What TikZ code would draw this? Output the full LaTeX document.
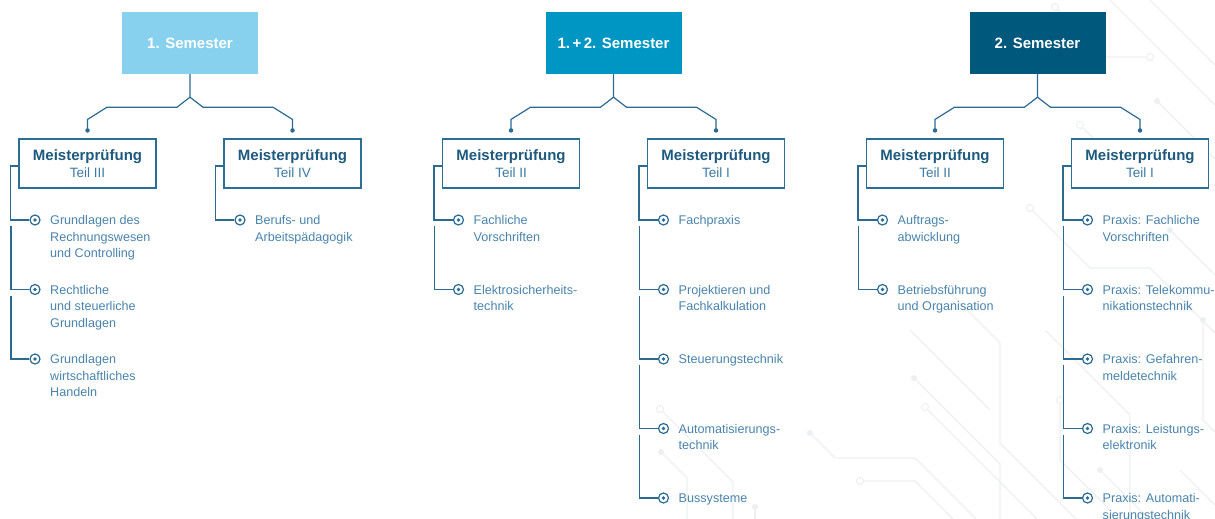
\documentclass[tikz,border=0pt]{standalone}
\usepackage{fontspec}
\setmainfont{Liberation Sans}
\usetikzlibrary{calc}
\definecolor{semA}{HTML}{88D1EE}
\definecolor{semB}{HTML}{0096C3}
\definecolor{semC}{HTML}{00587D}
\definecolor{linec}{HTML}{2B6B92}
\definecolor{boxc}{HTML}{2B6E96}
\definecolor{titlec}{HTML}{1D5A7E}
\definecolor{teilc}{HTML}{3A7AA2}
\definecolor{itemc}{HTML}{4A84AB}
\definecolor{tracec}{HTML}{EDF0F3}
\newcommand\itxt[1]{\begin{tabular}[t]{@{}l@{}}#1\end{tabular}}
\newcommand\mptitle[1]{{\fontsize{15}{17}\bfseries\selectfont\color{titlec}Meisterprüfung}\\{\color{teilc}#1}}
\newcommand\mpentry[4]{%
  \node[bul] (#1b) at (#2+16,#3) {};
  \node[itm] (#1t) at (#2+31,#3+4.5) {\itxt{#4}};
}
\tikzset{
  sem/.style={rectangle, minimum width=136pt, minimum height=62pt, inner sep=0pt, text=white,
    font=\bfseries\fontsize{15}{15}\selectfont},
  part/.style={rectangle, draw=boxc, line width=1.1pt, minimum width=137pt, minimum height=49pt,
    fill=white, align=center, inner sep=0pt, font=\fontsize{13.5}{17}\selectfont},
  bul/.style={circle, draw=linec, line width=1.2pt, minimum size=10pt, inner sep=0pt, fill=white,
    path picture={\fill[linec] (path picture bounding box.center) circle (1.9pt);}},
  itm/.style={anchor=base west, inner sep=0pt, text=itemc, font=\fontsize{12.6}{16.5}\selectfont},
  conn/.style={draw=linec, line width=1.2pt},
  dotn/.style={circle, fill=linec, minimum size=4.5pt, inner sep=0pt},
  trace/.style={draw=tracec, line width=1.1pt},
  tdot/.style={circle, fill=tracec, minimum size=6pt, inner sep=0pt},
  tring/.style={circle, draw=tracec, line width=1.1pt, fill=white, minimum size=7pt, inner sep=0pt},
}
\begin{document}
\begin{tikzpicture}[x=1pt, y=-1pt]
\useasboundingbox[fill=white] (0,0) rectangle (1215,519);
% faint background traces
\begin{scope}
\draw[trace] (914,378) node[tdot] (g1) {} -- (1000,464) -- (1000,519);
\draw[trace] (925,407) node[tring] (g2) {} -- (1037,519);
\draw[trace] (810,433) node[tdot] (g3) {} -- (835,458) -- (915,458) -- (976,519);
\draw[trace] (860,481) node[tring] (g4) {} -- (915,481) -- (953,519);
\draw[trace] (660,409) node[tring] (g5) {} -- (733,482) -- (733,519);
\draw[trace] (661,452) node[tdot] (g6) {} -- (687,478) -- (687,519);
\draw[trace] (755,507) node[tdot] (g7) {} -- (755,519);
\draw[trace] (947,290) -- (1000,343) -- (1000,443) -- (1076,519);
\draw[trace] (1045,330) -- (1130,415) -- (1130,519);
\draw[trace] (1055,7) node[tring] (g8) {} -- (1105,57) -- (1150,57) node[tring] (g9) {};
\draw[trace] (1110,0) -- (1215,105);
\draw[trace] (1150,0) -- (1215,65);
\draw[trace] (1157,101) node[tdot] (g10) {} -- (1215,159);
\draw[trace] (1080,125) node[tring] (g11) {} -- (1140,185) -- (1215,185);
\draw[trace] (1030,208) node[tring] (g12) {} -- (1090,268) -- (1150,268) -- (1215,333);
\draw[trace] (1170,230) node[tdot] (g13) {} -- (1215,275);
\draw[trace] (1203,320) node[tdot] (g14) {} -- (1203,420) -- (1215,432);
\draw[trace] (1060,400) node[tring] (g15) {} -- (1060,460) -- (1119,519);
\draw[trace] (1100,470) node[tdot] (g16) {} -- (1149,519);
\draw[trace] (910,330) -- (990,410);
\draw[trace] (1180,470) -- (1215,505);
\end{scope}
% semester boxes
\node[sem, fill=semA] (s1) at (190,43) {1. Semester};
\node[sem, fill=semB] (s2) at (613.5,43) {1.\,+\,2. Semester};
\node[sem, fill=semC] (s3) at (1037.5,43) {2. Semester};
% part boxes
\node[part] (p1l) at (87.5,163.5) {\mptitle{Teil III}};
\node[part] (p1r) at (292.5,163.5) {\mptitle{Teil IV}};
\node[part] (p2l) at (511,163.5) {\mptitle{Teil II}};
\node[part] (p2r) at (716,163.5) {\mptitle{Teil I}};
\node[part] (p3l) at (935,163.5) {\mptitle{Teil II}};
\node[part] (p3r) at (1140,163.5) {\mptitle{Teil I}};
% semester -> part connectors
\foreach \s/\l/\r in {s1/p1l/p1r, s2/p2l/p2r, s3/p3l/p3r}{
  \draw[conn] (\s.south) -- ++(0,23) coordinate (\s j) -- ++(-13,10) -- ++(-70,0)
    -- ($(\l.north)+(0,-19)$) -- ($(\l.north)+(0,-8)$) node[dotn] (\s dl) {};
  \draw[conn] (\s j) -- ++(13,10) -- ++(70,0)
    -- ($(\r.north)+(0,-19)$) -- ($(\r.north)+(0,-8)$) node[dotn] (\s dr) {};
}
% entries
\mpentry{a1}{19}{220}{Grundlagen des\\Rechnungswesen\\und Controlling}
\mpentry{a2}{19}{289.5}{Rechtliche\\und steuerliche\\Grundlagen}
\mpentry{a3}{19}{359}{Grundlagen\\wirtschaftliches\\Handeln}
\mpentry{b1}{224}{220}{Berufs- und\\Arbeitspädagogik}
\mpentry{c1}{442.5}{220}{Fachliche\\Vorschriften}
\mpentry{c2}{442.5}{289.5}{Elektrosicherheits-\\technik}
\mpentry{d1}{647.5}{220}{Fachpraxis}
\mpentry{d2}{647.5}{289.5}{Projektieren und\\Fachkalkulation}
\mpentry{d3}{647.5}{359}{Steuerungstechnik}
\mpentry{d4}{647.5}{428.5}{Automatisierungs-\\technik}
\mpentry{d5}{647.5}{498}{Bussysteme}
\mpentry{e1}{866.5}{220}{Auftrags-\\abwicklung}
\mpentry{e2}{866.5}{289.5}{Betriebsführung\\und Organisation}
\mpentry{f1}{1071.5}{220}{Praxis: Fachliche\\Vorschriften}
\mpentry{f2}{1071.5}{289.5}{Praxis: Telekommu-\\nikationstechnik}
\mpentry{f3}{1071.5}{359}{Praxis: Gefahren-\\meldetechnik}
\mpentry{f4}{1071.5}{428.5}{Praxis: Leistungs-\\elektronik}
\mpentry{f5}{1071.5}{498}{Praxis: Automati-\\sierungstechnik}
% part -> entry connectors
\foreach \p/\f in {p1l/a1, p1r/b1, p2l/c1, p2r/d1, p3l/e1, p3r/f1}{
  \draw[conn] ([yshift=-2.5pt]\p.west) -- ++(-8,0) |- (\f b.west);
}
\foreach \u/\v in {a1/a2, a2/a3, c1/c2, d1/d2, d2/d3, d3/d4, d4/d5, e1/e2, f1/f2, f2/f3, f3/f4, f4/f5}{
  \draw[conn] ($(\u b.center)+(-24,6)$) |- (\v b.west);
}
\end{tikzpicture}
\end{document}
